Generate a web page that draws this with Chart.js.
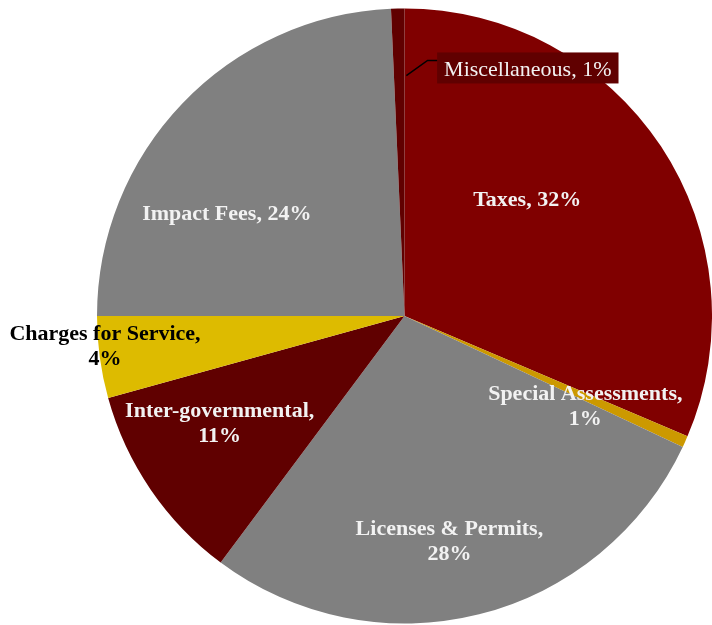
<!DOCTYPE html>
<html>
<head>
<meta charset="utf-8">
<script src="https://cdn.jsdelivr.net/npm/chart.js@4/dist/chart.umd.min.js"></script>
<style>
  html, body { margin: 0; padding: 0; background: #fff; }
  #wrap { width: 712px; height: 625px; }
</style>
</head>
<body>
<div id="wrap"><canvas id="pie"></canvas></div>
<script>
// revenue sources, share of total (%)
const categories = ['Taxes', 'Special Assessments', 'Licenses & Permits', 'Inter-governmental',
  'Charges for Service', 'Impact Fees', 'Miscellaneous'];
const shares = [31.4, 0.6, 28.2, 10.5, 4.3, 24.3, 0.7];
const pctLabels = ['32%', '1%', '28%', '11%', '4%', '24%', '1%'];
const sliceColors = ['#800000', '#CC9900', '#808080', '#600000', '#DDBB00', '#808080', '#600000'];

// label text lines (how Excel wrapped them)
const labelLines = [
  ['Taxes, ' + pctLabels[0]],
  ['Special Assessments,', pctLabels[1]],
  ['Licenses & Permits,', pctLabels[2]],
  ['Inter-governmental,', pctLabels[3]],
  ['Charges for Service,', pctLabels[4]],
  ['Impact Fees, ' + pctLabels[5]],
  ['Miscellaneous, ' + pctLabels[6]]
];
// first baseline position, as fraction of radius from the centre
const labelPos = [
  [0.399, -0.357], [0.588, 0.273], [0.146, 0.711], [-0.601, 0.328],
  [-0.974, 0.078], [-0.578, -0.312], [0.401, -0.779]
];

const labelPlugin = {
  id: 'sliceLabels',
  afterDatasetsDraw(chart) {
    const ctx = chart.ctx;
    const arcs = chart.getDatasetMeta(0).data;
    const cx = arcs[0].x, cy = arcs[0].y, r = arcs[0].outerRadius;
    ctx.save();
    ctx.textAlign = 'center';
    ctx.textBaseline = 'alphabetic';
    labelLines.forEach((lines, i) => {
      const x = cx + labelPos[i][0] * r;
      const y = cy + labelPos[i][1] * r;
      if (i === 6) {
        // callout box with leader line
        ctx.font = '22px "Liberation Serif", "Times New Roman", serif';
        const w = ctx.measureText(lines[0]).width;
        const bx = x - w / 2 - 7;
        ctx.fillStyle = '#600000';
        ctx.fillRect(bx, y - 24, w + 14, 31);
        ctx.strokeStyle = '#000';
        ctx.lineWidth = 1.5;
        ctx.beginPath();
        ctx.moveTo(cx + 0.006 * r, cy - 0.782 * r);
        ctx.lineTo(cx + 0.075 * r, cy - 0.831 * r);
        ctx.lineTo(bx, cy - 0.831 * r);
        ctx.stroke();
        ctx.fillStyle = '#F2F2F2';
        ctx.fillText(lines[0], x, y);
        return;
      }
      ctx.font = 'bold 22px "Liberation Serif", "Times New Roman", serif';
      ctx.fillStyle = i === 4 ? '#000000' : '#F2F2F2';
      lines.forEach((t, k) => ctx.fillText(t, x, y + k * 25));
    });
    ctx.restore();
  }
};

new Chart(document.getElementById('pie'), {
  type: 'pie',
  data: {
    labels: categories,
    datasets: [{
      data: shares,
      backgroundColor: sliceColors,
      borderWidth: 0
    }]
  },
  options: {
    responsive: true,
    maintainAspectRatio: false,
    animation: false,
    layout: { padding: { left: 97, right: 0, top: 8, bottom: 1 } },
    plugins: {
      legend: { display: false },
      tooltip: { enabled: false }
    }
  },
  plugins: [labelPlugin]
});
</script>
</body>
</html>
